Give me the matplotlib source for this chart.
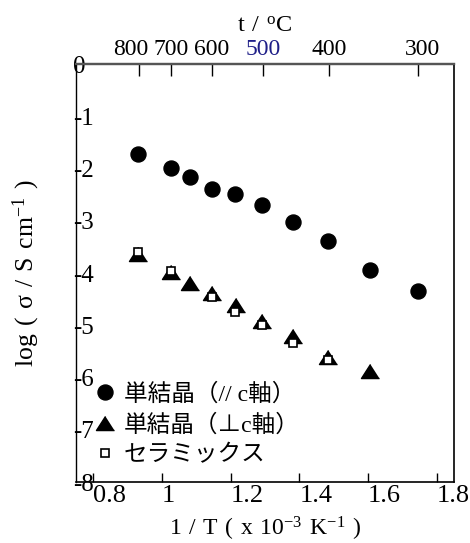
import numpy as np
import matplotlib
matplotlib.use("Agg")
import matplotlib.pyplot as plt
from matplotlib.lines import Line2D
from matplotlib.transforms import ScaledTranslation

plt.rcParams['font.family'] = ['Liberation Serif', 'Noto Sans CJK JP']
plt.rcParams['mathtext.fontset'] = 'custom'
plt.rcParams['mathtext.rm'] = 'Liberation Serif'
plt.rcParams['axes.unicode_minus'] = False

# 1/T (x 1e-3 K^-1) and log(sigma / S cm^-1)
x_par = [0.929, 1.025, 1.081, 1.145, 1.212, 1.292, 1.382, 1.484, 1.605, 1.746]
y_par = [-1.72, -1.98, -2.16, -2.39, -2.48, -2.70, -3.03, -3.39, -3.94, -4.35]
x_perp = [0.930, 1.025, 1.083, 1.145, 1.215, 1.292, 1.382, 1.484, 1.605]
y_perp = [-3.63, -3.98, -4.19, -4.39, -4.62, -4.91, -5.21, -5.61, -5.87]
x_cer = [0.930, 1.025, 1.145, 1.212, 1.292, 1.382, 1.484]
y_cer = [-3.60, -3.97, -4.45, -4.74, -5.00, -5.34, -5.67]

labels = ['単結晶（// c軸）', '単結晶（⊥c軸）', 'セラミックス']
x_ticks = [0.8, 1.0, 1.2, 1.4, 1.6, 1.8]
x_ticklabels = ['0.8', '1', '1.2', '1.4', '1.6', '1.8']
y_ticks = list(range(0, -9, -1))
t_ticks = [800, 700, 600, 500, 400, 300]

fig = plt.figure(figsize=(4.7, 5.43), dpi=100)
ax = fig.add_axes([0.1617, 0.1123, 0.966 - 0.1617, 0.882 - 0.1123])

tri = [(0, 0.78), (-1, -0.78), (1, -0.78)]
ax.plot(x_par, y_par, 'o', color='black', ms=10.8, ls='none')
ax.plot(x_perp, y_perp, marker=tri, color='black', ms=13, ls='none')
ax.plot(x_cer, y_cer, 's', mfc='white', mec='black', mew=1.2, ms=5.5, ls='none')

ax.set_xlim(0.75, 1.85)
ax.set_ylim(-8, 0)
ax.set_xticks(x_ticks)
ax.set_xticklabels(x_ticklabels, ha='left')
ax.set_yticks(y_ticks)
ax.set_yticklabels([str(v) for v in y_ticks], ha='left')
ax.tick_params(axis='x', direction='in', length=6.5, width=1, labelsize=19, pad=2.5)
ax.tick_params(axis='y', direction='in', length=0, labelsize=18, pad=2.4)
ax.set_xlabel(r'$\mathrm{1\ /\ T\ (\ x\ 10^{-3}\ K^{-1}\ )}$', fontsize=17, labelpad=5)
ax.set_ylabel(r'$\mathrm{log\ (\ σ\ /\ S\ cm^{-1}\ )}$', fontsize=18.5, labelpad=22)

ax.spines['left'].set_linewidth(1.0)
ax.spines['bottom'].set_linewidth(1.2)
ax.spines['right'].set_linewidth(1.2)
ax.spines['top'].set_color('#555555')
ax.spines['top'].set_linewidth(1.6)

sec = ax.secondary_xaxis('top', functions=(lambda x: 1000.0 / x - 273.0,
                                            lambda t: 1000.0 / (t + 273.0)))
sec.set_xticks(t_ticks)
sec.set_xticklabels([str(t) for t in t_ticks])
sec.tick_params(direction='in', length=8.6, width=1, labelsize=17, pad=3)
sec.spines['top'].set_color('#555555')
sec.spines['top'].set_linewidth(1.6)
for lab, t in zip(sec.get_xticklabels(), t_ticks):
    if t == 800:
        lab.set_transform(lab.get_transform() +
                          ScaledTranslation(-8 / 100, 0, fig.dpi_scale_trans))
    if t == 300:
        lab.set_transform(lab.get_transform() +
                          ScaledTranslation(4 / 100, 0, fig.dpi_scale_trans))
    if t == 500:
        lab.set_color('#1f1f88')
sec.set_xlabel(r'$\mathrm{t\ /\ {}^{o}C}$', fontsize=17.5, labelpad=5)

handles = [
    Line2D([], [], marker='o', color='black', ms=10.8, ls='none'),
    Line2D([], [], marker=tri, color='black', ms=13, ls='none'),
    Line2D([], [], marker='s', mfc='white', mec='black', mew=1.2, ms=5.5, ls='none'),
]
ax.legend(handles, labels, loc='lower left', bbox_to_anchor=(0.026, 0.014),
          frameon=False, fontsize=17, handlelength=0.8, handletextpad=0.4,
          labelspacing=0.37, borderaxespad=0.2, borderpad=0.2)

fig.savefig('out.png', dpi=100)
